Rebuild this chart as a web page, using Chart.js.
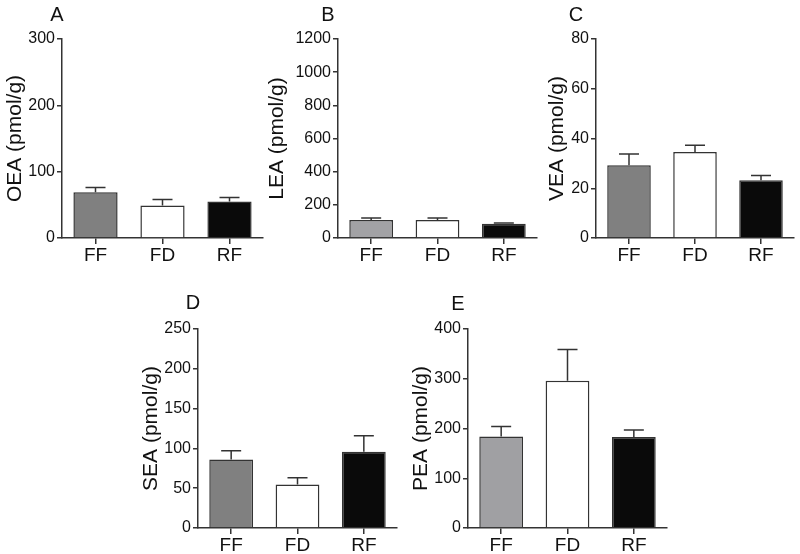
<!DOCTYPE html>
<html>
<head>
<meta charset="utf-8">
<script src="https://cdn.jsdelivr.net/npm/chart.js@4/dist/chart.umd.min.js"></script>
<style>
  body { margin: 0; background: #fff; }
  #wrap { position: relative; width: 800px; height: 554px; background: #fff; }
  #wrap canvas { position: absolute; left: 0; top: 0; }
</style>
</head>
<body>
<div id="wrap">
  <canvas id="cA" width="800" height="554"></canvas>
  <canvas id="cB" width="800" height="554"></canvas>
  <canvas id="cC" width="800" height="554"></canvas>
  <canvas id="cD" width="800" height="554"></canvas>
  <canvas id="cE" width="800" height="554"></canvas>
</div>
<script>
// donnees (moyenne + SEM)
var groups = ['FF', 'FD', 'RF'];

var oeaMean = [69, 49, 55];
var oeaSem = [7, 9, 6];
var leaMean = [108, 108, 86];
var leaSem = [13, 13, 5];
var veaMean = [29.2, 34.6, 23.2];
var veaSem = [4.6, 2.7, 1.9];
var seaMean = [86, 54.5, 95.7];
var seaSem = [11, 8.5, 20.3];
var peaMean = [184, 296, 183];
var peaSem = [20, 63, 14];

var axisMax = [300, 1200, 80, 250, 400];
var axisStep = [100, 200, 20, 50, 100];

var INK = '#333';
var FONT = 'Arial, "Liberation Sans", sans-serif';

// barres d'erreur (seulement vers le haut, comme GraphPad)
var errorBars = {
    id: 'errorBars',
    afterDatasetsDraw: function (chart) {
        var ctx = chart.ctx;
        var yScale = chart.scales.y;
        chart.data.datasets.forEach(function (ds, di) {
            var meta = chart.getDatasetMeta(di);
            meta.data.forEach(function (bar, i) {
                var top = yScale.getPixelForValue(ds.data[i] + ds.errors[i]);
                ctx.save();
                ctx.strokeStyle = INK;
                ctx.lineWidth = 1.5;
                ctx.beginPath();
                ctx.moveTo(bar.x, bar.y);
                ctx.lineTo(bar.x, top);
                ctx.moveTo(bar.x - 10, top);
                ctx.lineTo(bar.x + 10, top);
                ctx.stroke();
                ctx.restore();
            });
        });
    }
};

// lettre du panneau (A, B, ...)
var panelLetter = {
    id: 'panelLetter',
    afterDraw: function (chart, args, opts) {
        var ctx = chart.ctx;
        ctx.save();
        ctx.fillStyle = '#111';
        ctx.font = '20px ' + FONT;
        ctx.textAlign = 'center';
        ctx.textBaseline = 'middle';
        ctx.fillText(opts.text, opts.x, opts.y);
        ctx.restore();
    }
};

function makePanel(id, letter, title, mean, sem, ffColor, max, step, box) {
    var titleHalf = 12.6;
    new Chart(document.getElementById(id), {
        type: 'bar',
        data: {
            labels: groups,
            datasets: [{
                data: mean,
                errors: sem,
                backgroundColor: [ffColor, '#ffffff', '#0a0a0a'],
                borderColor: INK,
                borderWidth: 1.5,
                barPercentage: 0.66,
                categoryPercentage: 1
            }]
        },
        options: {
            responsive: false,
            animation: false,
            events: [],
            layout: {
                padding: {
                    left: box.titleX - titleHalf,
                    top: box.top,
                    right: 800 - box.right,
                    bottom: 554 - box.bottom - 24
                }
            },
            plugins: {
                legend: { display: false },
                tooltip: { enabled: false },
                panelLetter: { text: letter, x: box.letterX, y: box.letterY }
            },
            scales: {
                x: {
                    afterFit: function (s) { s.height = 24; },
                    grid: { offset: false, drawOnChartArea: false, tickLength: 6, color: INK, lineWidth: 1.5 },
                    border: { color: INK, width: 1.5 },
                    ticks: { color: '#111', padding: 0, font: { family: FONT, size: 19 } }
                },
                y: {
                    min: 0,
                    max: max,
                    afterFit: function (s) { s.width = box.axisX - box.titleX + titleHalf; },
                    grid: { drawOnChartArea: false, tickLength: 5, color: INK, lineWidth: 1.5 },
                    border: { color: INK, width: 1.5 },
                    ticks: {
                        stepSize: step,
                        color: '#111',
                        padding: 2,
                        font: { family: FONT, size: 16 },
                        callback: function (v) { return String(v); }
                    },
                    title: {
                        display: true,
                        text: title,
                        color: '#111',
                        padding: 0,
                        font: { family: FONT, size: 21 }
                    }
                }
            }
        },
        plugins: [errorBars, panelLetter]
    });
}

makePanel('cA', 'A', 'OEA (pmol/g)', oeaMean, oeaSem, '#808080', axisMax[0], axisStep[0],
    { axisX: 62, right: 263, top: 39, bottom: 238, titleX: 15, letterX: 57, letterY: 15 });
makePanel('cB', 'B', 'LEA (pmol/g)', leaMean, leaSem, '#a2a2a5', axisMax[1], axisStep[1],
    { axisX: 338, right: 537, top: 39, bottom: 238, titleX: 277, letterX: 328, letterY: 15 });
makePanel('cC', 'C', 'VEA (pmol/g)', veaMean, veaSem, '#808080', axisMax[2], axisStep[2],
    { axisX: 596, right: 794, top: 39, bottom: 238, titleX: 557, letterX: 576, letterY: 15 });
makePanel('cD', 'D', 'SEA (pmol/g)', seaMean, seaSem, '#808080', axisMax[3], axisStep[3],
    { axisX: 198, right: 397, top: 329, bottom: 528, titleX: 151, letterX: 193, letterY: 303 });
makePanel('cE', 'E', 'PEA (pmol/g)', peaMean, peaSem, '#a0a0a3', axisMax[4], axisStep[4],
    { axisX: 468, right: 667, top: 329, bottom: 528, titleX: 421, letterX: 458, letterY: 304 });
</script>
</body>
</html>
